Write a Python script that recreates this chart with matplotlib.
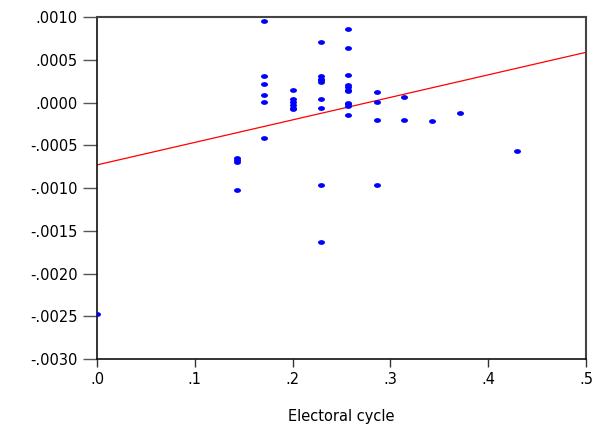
import matplotlib

matplotlib.use("Agg")

import matplotlib.pyplot as plt
from matplotlib.path import Path
from matplotlib.transforms import Affine2D

# electoral cycle (x) vs residual value (y)
cycle = [
    0.000,
    0.143, 0.143, 0.143, 0.143,
    0.171, 0.171, 0.171, 0.171, 0.171, 0.171,
    0.200, 0.200, 0.200, 0.200, 0.200, 0.200,
    0.229, 0.229, 0.229, 0.229, 0.229, 0.229, 0.229, 0.229, 0.229,
    0.257, 0.257, 0.257, 0.257, 0.257, 0.257, 0.257, 0.257, 0.257, 0.257, 0.257,
    0.286, 0.286, 0.286, 0.286,
    0.314, 0.314,
    0.343,
    0.371,
    0.429,
]
values = [
    -0.00247,
    -0.00065, -0.00067, -0.00069, -0.00102,
    0.00095, 0.00031, 0.00022, 0.00009, 0.00001, -0.00042,
    0.00015, 0.00004, 0.00001, -0.00003, -0.00006, -0.00008,
    0.00071, 0.00031, 0.00028, 0.00026, 0.00024, 0.00004, -0.00006, -0.00097, -0.00163,
    0.00086, 0.00064, 0.00032, 0.00020, 0.00018, 0.00015, 0.00013, 0.00000, -0.00002, -0.00004, -0.00015,
    0.00012, 0.00001, -0.00021, -0.00097,
    0.00006, -0.00021,
    -0.00022,
    -0.00012,
    -0.00057,
]

# fitted line end points
fit_x = [0.0, 0.5]
fit_y = [-0.00073, 0.000587]

x_ticks = [0.0, 0.1, 0.2, 0.3, 0.4, 0.5]
x_labels = [".0", ".1", ".2", ".3", ".4", ".5"]
y_ticks = [0.0010, 0.0005, 0.0, -0.0005, -0.0010, -0.0015, -0.0020, -0.0025, -0.0030]
y_labels = [".0010", ".0005", ".0000", "-.0005", "-.0010", "-.0015", "-.0020", "-.0025", "-.0030"]

plt.rcParams["font.family"] = ["DejaVu Sans"]

fig = plt.figure(figsize=(6.08, 4.33), dpi=100)
ax = fig.add_axes([0.1595, 0.1709, 0.8043, 0.7898])

dot = Path.unit_circle().transformed(Affine2D().scale(1.45, 1.0))

ax.plot(fit_x, fit_y, color="#ff0000", linewidth=0.9, zorder=2)
ax.plot(
    cycle,
    values,
    linestyle="none",
    marker=dot,
    markersize=5.0,
    color="#0000ff",
    markeredgewidth=0,
    zorder=3,
)

ax.set_xlim(0.0, 0.5)
ax.set_ylim(-0.0030, 0.0010)
ax.set_xticks(x_ticks)
ax.set_xticklabels(x_labels)
ax.set_yticks(y_ticks)
ax.set_yticklabels(y_labels)

ax.tick_params(axis="y", length=10, width=1, color="#555555", pad=4, labelsize=10.5)
ax.tick_params(axis="x", length=6, width=1, color="#333333", pad=3, labelsize=10.5)

for side in ["left", "bottom"]:
    ax.spines[side].set_linewidth(1.2)
    ax.spines[side].set_color("#111111")
for side in ["top", "right"]:
    ax.spines[side].set_linewidth(1.5)
    ax.spines[side].set_color("#444444")

ax.set_xlabel("Electoral cycle", fontsize=10.5, labelpad=16)

fig.savefig("out.png", dpi=100)
